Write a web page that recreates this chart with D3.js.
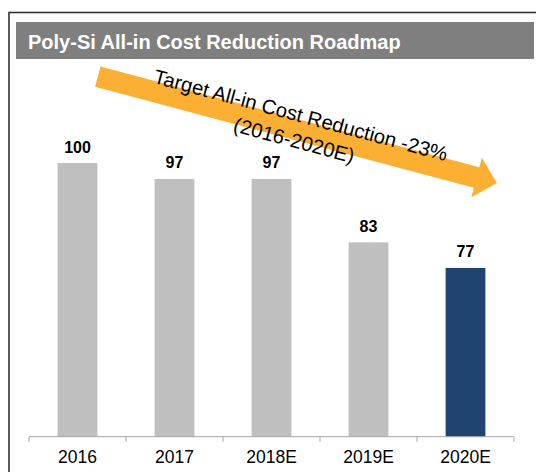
<!DOCTYPE html>
<html>
<head>
<meta charset="utf-8">
<script src="https://cdn.jsdelivr.net/npm/d3@7"></script>
<style>
  body { margin: 0; background: #fff; }
  svg { display: block; font-family: "Liberation Sans", Arial, sans-serif; }
</style>
</head>
<body>
<svg id="chart" width="536" height="472"></svg>
<script>
// chart data
var years = ["2016", "2017", "2018E", "2019E", "2020E"];
var costIndex = [100, 96.5, 96.5, 82.6, 77];
var barColors = ["#bfbfbf", "#bfbfbf", "#bfbfbf", "#bfbfbf", "#1f4470"];
var titleText = "Poly-Si All-in Cost Reduction Roadmap";
var arrowLines = ["Target All-in Cost Reduction -23%", "(2016-2020E)"];

var svg = d3.select("#chart");

// outer frame
svg.append("rect")
  .attr("x", 9).attr("y", 12.5)
  .attr("width", 540).attr("height", 480)
  .attr("fill", "none")
  .attr("stroke", "#333")
  .attr("stroke-width", 1.6);

// header band
svg.append("rect")
  .attr("x", 16).attr("y", 22)
  .attr("width", 518).attr("height", 37)
  .attr("fill", "#7f7f7f");

svg.append("text")
  .attr("x", 28).attr("y", 48.5)
  .attr("fill", "#fff")
  .attr("font-size", 20)
  .attr("font-weight", "bold")
  .text(titleText);

var x = d3.scaleBand()
  .domain(years)
  .range([29, 514])
  .paddingInner(0.59)
  .paddingOuter(0.295);

var y = d3.scaleLinear()
  .domain([40, 100])
  .range([436.7, 163]);

var data = years.map(function(d, i) {
  return { year: d, value: costIndex[i], color: barColors[i] };
});

svg.selectAll("rect.bar")
  .data(data)
  .enter().append("rect")
  .attr("class", "bar")
  .attr("x", function(d) { return x(d.year); })
  .attr("y", function(d) { return y(d.value); })
  .attr("width", x.bandwidth())
  .attr("height", function(d) { return y(40) - y(d.value); })
  .attr("fill", function(d) { return d.color; });

svg.selectAll("text.val")
  .data(data)
  .enter().append("text")
  .attr("class", "val")
  .attr("x", function(d) { return x(d.year) + x.bandwidth() / 2; })
  .attr("y", function(d) { return y(d.value) - 10.5; })
  .attr("text-anchor", "middle")
  .attr("font-size", 16)
  .attr("font-weight", "bold")
  .attr("fill", "#000")
  .text(function(d) { return Math.round(d.value); });

// x axis: labels from the band scale, ticks on category boundaries
var axis = svg.append("g")
  .attr("transform", "translate(0," + y(40) + ")")
  .call(d3.axisBottom(x).tickSize(0).tickPadding(0));
axis.select(".domain").remove();
axis.selectAll("text")
  .attr("y", 26)
  .attr("dy", 0)
  .attr("font-size", 17.5)
  .attr("font-family", "Liberation Sans, Arial, sans-serif")
  .attr("fill", "#000");

var edges = d3.range(years.length + 1).map(function(i) { return x.range()[0] + i * x.step(); });
axis.append("line")
  .attr("x1", edges[0]).attr("x2", edges[edges.length - 1])
  .attr("stroke", "#a6a6a6");
axis.selectAll("line.edge")
  .data(edges)
  .enter().append("line")
  .attr("class", "edge")
  .attr("x1", function(d) { return d; })
  .attr("x2", function(d) { return d; })
  .attr("y1", 0).attr("y2", 5)
  .attr("stroke", "#a6a6a6");

// big arrow
var len = 392, half = 10.5, headHalf = 20.5, headLen = 21;
var arrow = svg.append("g")
  .attr("transform", "translate(97.8,76.7) rotate(14.9)");
arrow.append("path")
  .attr("d", d3.line()([
    [0, -half], [len, -half], [len, -headHalf], [len + headLen, 0],
    [len, headHalf], [len, half], [0, half]
  ]) + "Z")
  .attr("fill", "#fbb034");

var note = svg.append("g")
  .attr("transform", "translate(299,122) rotate(15)");
note.selectAll("text")
  .data(arrowLines)
  .enter().append("text")
  .attr("x", 0)
  .attr("y", function(d, i) { return i * 26; })
  .attr("text-anchor", "middle")
  .attr("font-size", 20.3)
  .attr("fill", "#000")
  .text(function(d) { return d; });
</script>
</body>
</html>
